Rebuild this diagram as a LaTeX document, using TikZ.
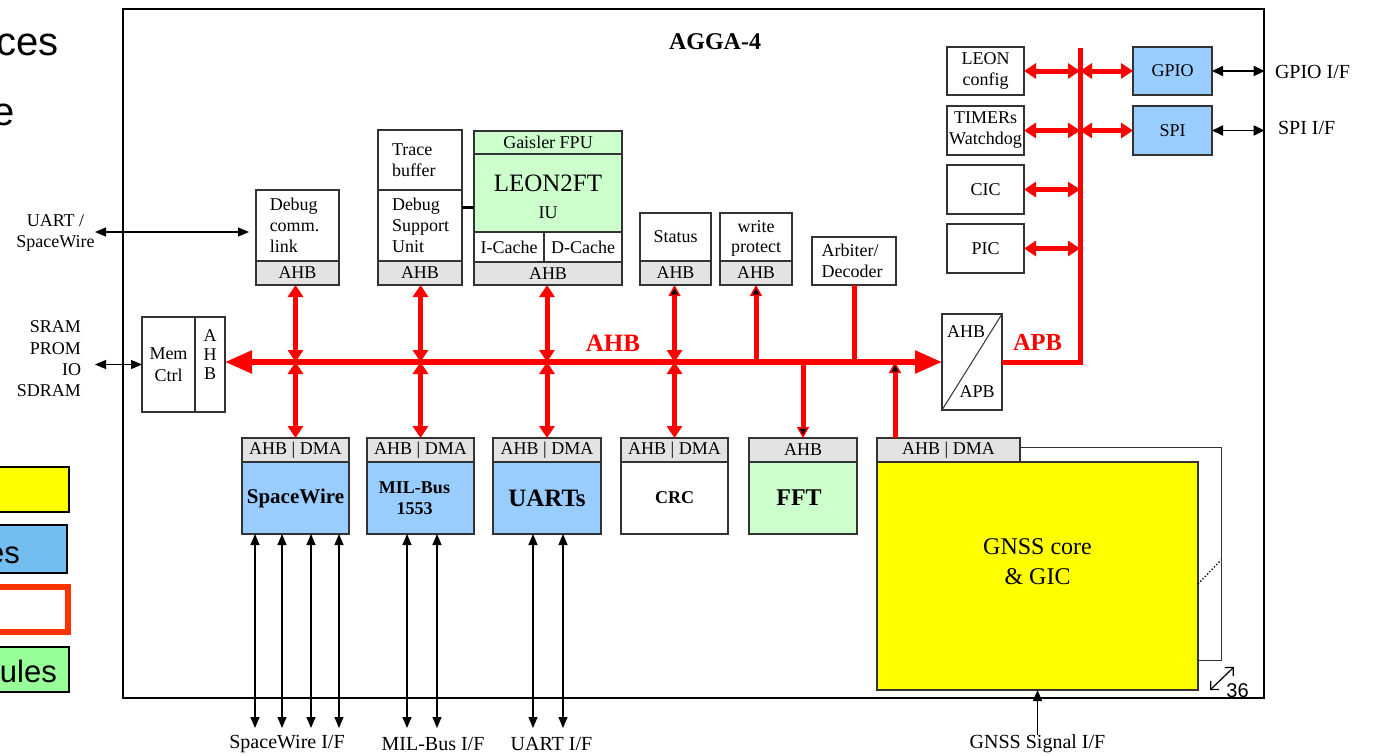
\documentclass[tikz,border=0pt]{standalone}
\usepackage{fontspec}
\setmainfont{Liberation Serif}
\newfontfamily\arialf{Liberation Sans}
\usetikzlibrary{arrows.meta,fit,calc}
\definecolor{boxc}{HTML}{333333}
\definecolor{stripc}{HTML}{E3E3E3}
\definecolor{lblue}{HTML}{99CCFF}
\definecolor{lgreen}{HTML}{CCFFCC}
\definecolor{gyellow}{HTML}{FFFF00}
\definecolor{busred}{HTML}{FF0000}
\definecolor{legblue}{HTML}{73BEF0}
\definecolor{leggreen}{HTML}{99FF99}
\definecolor{legred}{HTML}{FF3300}
\begin{document}
\begin{tikzpicture}[x=1pt,y=-1pt,
  blk/.style={draw=boxc, line width=1.2pt, inner sep=0pt, outer sep=0pt, fill=white},
  strip/.style={blk, fill=stripc},
  txt/.style={inner sep=0pt, outer sep=0pt, font=\fontsize{18}{21}\selectfont, align=center},
  legbox/.style={draw=black, line width=1.5pt, inner sep=0pt, outer sep=0pt},
  rline/.style={draw=busred, line width=5pt},
  redbus/.style={draw=busred, line width=5.5pt, arrows={Triangle[length=27pt,width=22pt]-Triangle[length=27pt,width=22pt]}},
  rdd/.style={rline, arrows={Triangle[length=12pt,width=15pt]-Triangle[length=12pt,width=15pt]}},
  rbk/.style={rline, arrows={-Triangle[length=11pt,width=12pt,fill=black,line width=1.5pt]}},
  rst/.style={rline, arrows={Triangle[length=11pt,width=12pt,fill=black,line width=1.5pt]-Triangle[length=12pt,width=15pt]}},
  barr/.style={draw=black, line width=1.2pt, arrows={Triangle[length=11pt,width=9pt]-Triangle[length=11pt,width=9pt]}},
  barrg/.style={draw=black, line width=1.8pt, arrows={Triangle[length=11pt,width=10pt]-Triangle[length=11pt,width=10pt]}},
  barr1/.style={draw=black, line width=1.2pt, arrows={-Triangle[length=11pt,width=9pt]}},
]
\useasboundingbox (0,0) rectangle (1373,755);

% cropped page text
\node[anchor=base east, inner sep=0pt, font=\arialf\fontsize{40}{44}\selectfont] (pgA) at (59,55) {ces};
\node[anchor=base east, inner sep=0pt, font=\arialf\fontsize{40}{44}\selectfont] (pgB) at (15,125) {e};

% legend
\node[legbox, fill=gyellow, fit={(-10,467)(69,512)}] (lg1) {};
\node[legbox, fill=legblue, fit={(-10,525)(67,573)}] (lg2) {};
\node[draw=legred, line width=5.5pt, fill=white, inner sep=0pt, fit={(-10,587)(68,632)}] (lg3) {};
\node[legbox, fill=leggreen, fit={(-10,647)(69,692)}] (lg4) {};
\node[anchor=base east, inner sep=0pt, font=\arialf\fontsize{31}{34}\selectfont] (lgt2) at (20,563) {es};
\node[anchor=base east, inner sep=0pt, font=\arialf\fontsize{31}{34}\selectfont] (lgt4) at (57,682) {ules};

% frame
\node[draw=black, line width=1.3pt, inner sep=0pt, fit={(123,9)(1264,698)}] (frame) {};
\node[txt, font=\bfseries\fontsize{24}{28}\selectfont] (title) at (715,42) {AGGA-4};

% GNSS core
\node[draw=boxc, line width=1pt, fill=white, inner sep=0pt, fit={(877,447)(1221,660)}] (gback) {};
\node[blk, fill=gyellow, fit={(877,462)(1198,690)}] (gnss) {};
\node[strip, fit={(877,438)(1020,462)}] (gnssA) {};
\node[txt] (gnssAT) at (gnssA) {AHB | DMA};
\node[txt, font=\fontsize{24}{30}\selectfont] (gnssT) at ([yshift=14pt]gnss.center) {GNSS core\\\& GIC};
\coordinate (gd1) at (1198,584);
\coordinate (gd2) at (1221,560);
\draw[dotted, line width=1.3pt] (gd1) -- (gd2);
\coordinate (s1) at (1210,690);
\coordinate (s2) at (1234,667);
\draw[line width=1.2pt, arrows={Straight Barb[length=6pt,width=12pt]-Straight Barb[length=6pt,width=12pt]}] (s1) -- (s2);
\node[anchor=base, inner sep=0pt, font=\arialf\fontsize{20}{22}\selectfont] (n36) at (1237.5,697) {36};

% upper blocks
\node[blk, fit={(256,190)(339,261)}] (dcl) {};
\node[txt, align=left] (dclT) at ([xshift=-3pt]dcl.center) {Debug\\comm.\\link};
\node[strip, fit={(256,261)(339,285)}] (dclA) {};
\node[txt] (dclAT) at (dclA) {AHB};

\node[blk, fit={(378,130)(462,190)}] (tbuf) {};
\node[txt, align=left, anchor=west] (tbufT) at ([xshift=14pt]tbuf.west) {Trace\\buffer};
\node[blk, fit={(378,190)(462,261)}] (dsu) {};
\node[txt, align=left, anchor=west] (dsuT) at ([xshift=14pt]dsu.west) {Debug\\Support\\Unit};
\node[strip, fit={(378,261)(462,285)}] (dsuA) {};
\node[txt] (dsuAT) at (dsuA) {AHB};

\node[blk, fill=lgreen, fit={(474,131)(622,154)}] (fpu) {};
\node[txt] (fpuT) at (fpu) {Gaisler FPU};
\node[blk, fill=lgreen, fit={(474,154)(622,232)}] (iu) {};
\node[txt, font=\fontsize{25}{28}\selectfont] (leonT) at ([yshift=10pt]iu.center) {LEON2FT};
\node[txt, font=\fontsize{18}{20}\selectfont] (iuT) at ([yshift=-20pt]iu.center) {IU};
\node[blk, fit={(474,232)(544,262)}] (ica) {};
\node[txt] (icaT) at (ica) {I-Cache};
\node[blk, fit={(544,232)(622,262)}] (dca) {};
\node[txt] (dcaT) at (dca) {D-Cache};
\node[strip, fit={(474,262)(622,285)}] (leonA) {};
\node[txt] (leonAT) at (leonA) {AHB};
\coordinate (dl) at (462,207);
\draw[line width=3pt] (dl) -- (dl -| iu.west);

\node[blk, fit={(640,213)(711,261)}] (status) {};
\node[txt] (statusT) at (status) {Status};
\node[strip, fit={(640,261)(711,285)}] (statusA) {};
\node[txt] (statusAT) at (statusA) {AHB};
\node[blk, fit={(720,213)(792,261)}] (wp) {};
\node[txt, font=\fontsize{18}{20}\selectfont] (wpT) at ([yshift=-1pt]wp.center) {write\\protect};
\node[strip, fit={(720,261)(792,285)}] (wpA) {};
\node[txt] (wpAT) at (wpA) {AHB};
\node[blk, fit={(812,237)(896,285)}] (arb) {};
\node[txt, align=left] (arbT) at ([xshift=-2pt]arb.center) {Arbiter/\\Decoder};

% memory controller
\node[blk, fit={(142,317)(195,412)}] (mem) {};
\node[txt, font=\fontsize{18}{22}\selectfont] (memT) at (mem) {Mem\\Ctrl};
\node[blk, fit={(195,317)(225,412)}] (memA) {};
\node[txt, font=\fontsize{18}{19}\selectfont] (memAT) at ([yshift=10pt]memA.center) {A\\H\\B};

% bridge
\node[blk, fit={(942,314)(1002,410)}] (bridge) {};
\draw[draw=boxc, line width=1pt] (bridge.south west) -- (bridge.north east);
\node[txt] (brA) at ([xshift=-6pt,yshift=30pt]bridge.center) {AHB};
\node[txt] (brP) at ([xshift=5pt,yshift=-30pt]bridge.center) {APB};

% APB peripherals
\node[blk, fit={(947,47)(1024,95)}] (leoncfg) {};
\node[txt] (leoncfgT) at (leoncfg) {LEON\\config};
\node[blk, fit={(947,106)(1024,155)}] (timers) {};
\node[txt] (timersT) at (timers) {TIMERs\\Watchdog};
\node[blk, fit={(947,165)(1024,214)}] (cic) {};
\node[txt] (cicT) at (cic) {CIC};
\node[blk, fit={(947,224)(1024,273)}] (pic) {};
\node[txt] (picT) at (pic) {PIC};
\node[blk, fill=lblue, fit={(1133,47)(1212,95)}] (gpio) {};
\node[txt] (gpioT) at (gpio) {GPIO};
\node[blk, fill=lblue, fit={(1133,106)(1212,155)}] (spi) {};
\node[txt] (spiT) at (spi) {SPI};

% lower blocks
\node[blk, fill=lblue, fit={(242,462)(349,534)}] (spw) {};
\node[txt, font=\bfseries\fontsize{21}{24}\selectfont] (spwT) at (spw) {SpaceWire};
\node[strip, fit={(242,438)(349,462)}] (spwA) {};
\node[txt] (spwAT) at (spwA) {AHB | DMA};
\node[blk, fill=lblue, fit={(367,462)(474,534)}] (mil) {};
\node[txt, font=\bfseries\fontsize{18}{21}\selectfont] (milT) at ([xshift=-6pt]mil.center) {MIL-Bus\\1553};
\node[strip, fit={(367,438)(474,462)}] (milA) {};
\node[txt] (milAT) at (milA) {AHB | DMA};
\node[blk, fill=lblue, fit={(493,462)(601,534)}] (uart) {};
\node[txt, font=\bfseries\fontsize{25}{28}\selectfont] (uartT) at (uart) {UARTs};
\node[strip, fit={(493,438)(601,462)}] (uartA) {};
\node[txt] (uartAT) at (uartA) {AHB | DMA};
\node[blk, fit={(621,462)(728,534)}] (crc) {};
\node[txt, font=\bfseries\fontsize{18}{21}\selectfont] (crcT) at (crc) {CRC};
\node[strip, fit={(621,438)(728,462)}] (crcA) {};
\node[txt] (crcAT) at (crcA) {AHB | DMA};
\node[blk, fill=lgreen, fit={(749,462)(857,534)}] (fft) {};
\node[txt, font=\bfseries\fontsize{24}{27}\selectfont] (fftT) at ([xshift=-4pt]fft.center) {FFT};
\node[strip, fit={(749,438)(857,462)}] (fftA) {};
\node[txt] (fftAT) at (fftA) {AHB};

% AHB bus
\coordinate (busy) at (bridge.west);
\draw[redbus] (memA.east |- busy) -- (bridge.west);
\node[txt, font=\bfseries\fontsize{25}{28}\selectfont, text=busred] (ahbL) at (613,343) {AHB};

\draw[rdd] (spwA.north |- dclA.south) -- (spwA.north |- busy);
\draw[rdd] (spwA.north |- busy) -- (spwA.north);
\draw[rdd] (milA.north |- dsuA.south) -- (milA.north |- busy);
\draw[rdd] (milA.north |- busy) -- (milA.north);
\draw[rdd] (uartA.north |- leonA.south) -- (uartA.north |- busy);
\draw[rdd] (uartA.north |- busy) -- (uartA.north);
\draw[rst] (crcA.north |- statusA.south) -- (crcA.north |- busy);
\draw[rdd] (crcA.north |- busy) -- (crcA.north);
\draw[rbk] (wpA.south |- busy) -- (wpA.south);
\draw[rline] (arb.south) -- (arb.south |- busy);
\draw[rbk] (fftA.north |- busy) -- (fftA.north);
\coordinate (gtap) at ([xshift=18pt]gnssA.north west);
\draw[rbk] (gtap) -- (gtap |- busy);

% APB bus
\coordinate (apbtop) at (1080,48);
\draw[rline] (bridge.east) -| (apbtop);
\node[txt, font=\bfseries\fontsize{24.5}{28}\selectfont, text=busred] (apbL) at (1037.5,342) {APB};
\draw[rdd] (leoncfg.east) -- (leoncfg.east -| apbtop);
\draw[rdd] (leoncfg.east -| apbtop) -- (gpio.west);
\draw[rdd] (timers.east) -- (timers.east -| apbtop);
\draw[rdd] (timers.east -| apbtop) -- (spi.west);
\draw[rdd] (cic.east) -- (cic.east -| apbtop);
\draw[rdd] (pic.east) -- (pic.east -| apbtop);

% right interfaces
\draw[barrg] (gpio.east) -- (gpio.east -| frame.east);
\draw[barrg] (spi.east) -- (spi.east -| frame.east);
\node[txt, anchor=west, font=\fontsize{20}{22}\selectfont] (gpioL) at (1275,72) {GPIO I/F};
\node[txt, anchor=west, font=\fontsize{20}{22}\selectfont] (spiL) at (1278,128) {SPI I/F};

% left interfaces
\node[txt] (usw) at (55.5,233) {UART /\\SpaceWire};
\coordinate (ua1) at (95,232);
\coordinate (ua2) at ([xshift=-7pt]dcl.west |- ua1);
\draw[barr] (ua1) -- (ua2);
\node[txt, align=right, anchor=east, font=\fontsize{18}{21.3}\selectfont] (memL) at (81,359) {SRAM\\PROM\\IO\\SDRAM};
\coordinate (ma1) at ([xshift=-47pt]mem.west);
\draw[barr] (ma1) -- (mem.west);

% bottom interfaces
\coordinate (ifb) at (0,728);
\foreach \dx [count=\i] in {13,40,69,97} {
  \coordinate (sa\i) at ([xshift=\dx pt]spw.south west);
  \draw[barr] (sa\i) -- (sa\i |- ifb);
}
\foreach \dx [count=\i] in {40,70} {
  \coordinate (ma\i) at ([xshift=\dx pt]mil.south west);
  \draw[barr] (ma\i) -- (ma\i |- ifb);
  \coordinate (ub\i) at ([xshift=\dx pt]uart.south west);
  \draw[barr] (ub\i) -- (ub\i |- ifb);
}
\node[txt, font=\fontsize{20}{22}\selectfont] (swL) at (287,744) {SpaceWire I/F};
\node[txt, font=\fontsize{20}{22}\selectfont] (milL) at (433,744) {MIL-Bus I/F};
\node[txt, font=\fontsize{20}{22}\selectfont] (uaL) at (551.5,744) {UART I/F};
\node[txt, font=\fontsize{20}{22}\selectfont] (gsig) at (1037.5,744) {GNSS Signal I/F};
\draw[barr1] (gsig.north) -- (gnss.south);
\end{tikzpicture}
\end{document}
